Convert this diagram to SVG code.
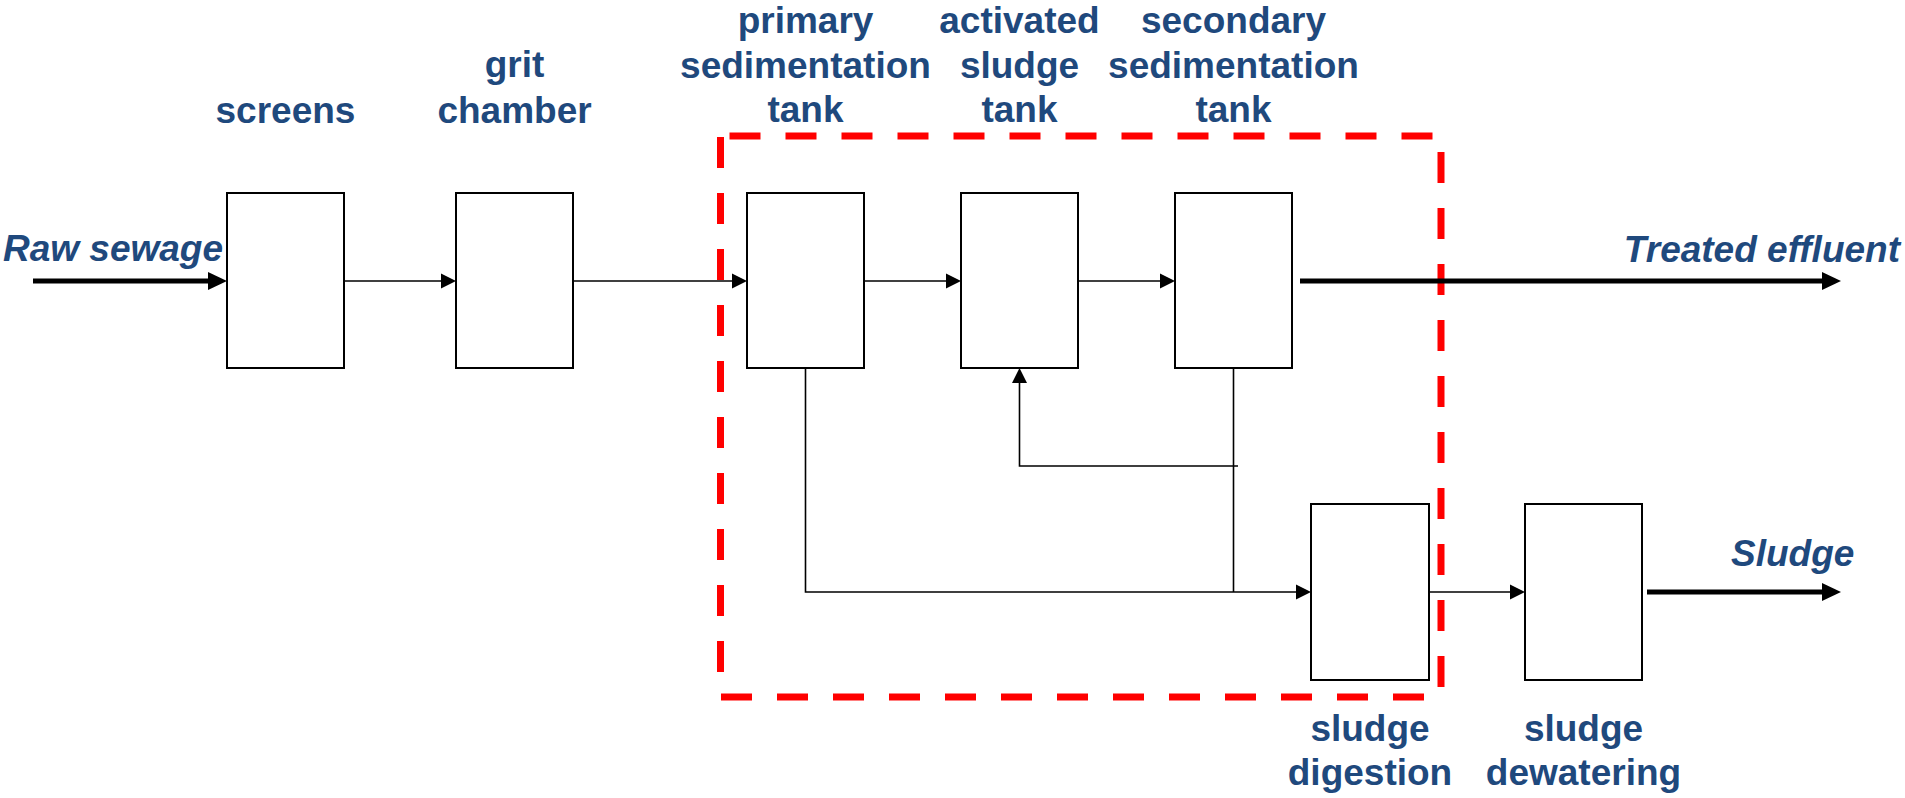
<svg xmlns="http://www.w3.org/2000/svg" width="1905" height="798" viewBox="0 0 1905 798">
<style>
.box{fill:#fff;stroke:#000;stroke-width:2}
.lbl{font-family:"Liberation Sans",Arial,sans-serif;font-weight:bold;font-size:37px;fill:#1F497D;text-anchor:middle}
.io{font-family:"Liberation Sans",Arial,sans-serif;font-weight:bold;font-style:italic;font-size:37px;fill:#1F497D}
.thin{fill:none;stroke:#000;stroke-width:1.6}
.thick{fill:none;stroke:#000;stroke-width:5}
.dash{fill:none;stroke:#FF0000;stroke-width:7;stroke-dasharray:31 25}
</style>
<defs>
<marker id="ah" markerUnits="userSpaceOnUse" markerWidth="15" markerHeight="15" refX="0" refY="7.5" viewBox="0 0 15 15" orient="auto" overflow="visible"><path d="M0,0 L15,7.5 L0,15 z" fill="#000"/></marker>
<marker id="ahb" markerUnits="userSpaceOnUse" markerWidth="19" markerHeight="18" refX="0" refY="9" viewBox="0 0 19 18" orient="auto" overflow="visible"><path d="M0,0 L19,9 L0,18 z" fill="#000"/></marker>
</defs>
<rect width="1905" height="798" fill="#fff"/>
<g id="boundary">
<line class="dash" x1="729.5" y1="136" x2="1445" y2="136"/>
<line class="dash" x1="720.5" y1="137" x2="720.5" y2="673"/>
<line class="dash" x1="1441" y1="152" x2="1441" y2="689"/>
<line class="dash" x1="721" y1="697" x2="1425" y2="697"/>
</g>
<g id="connectors">
<line class="thick" x1="33" y1="281" x2="208" y2="281" marker-end="url(#ahb)"/>
<line class="thin" x1="344" y1="281" x2="441" y2="281" marker-end="url(#ah)"/>
<line class="thin" x1="573" y1="281" x2="732" y2="281" marker-end="url(#ah)"/>
<line class="thin" x1="864" y1="281" x2="946" y2="281" marker-end="url(#ah)"/>
<line class="thin" x1="1078" y1="281" x2="1160" y2="281" marker-end="url(#ah)"/>
<line class="thick" x1="1300" y1="281" x2="1822" y2="281" marker-end="url(#ahb)"/>
<path class="thin" d="M805.5,368 V592 H1296" marker-end="url(#ah)"/>
<line class="thin" x1="1233.5" y1="368" x2="1233.5" y2="592"/>
<path class="thin" d="M1238,466 H1019.5 V383" marker-end="url(#ah)"/>
<line class="thin" x1="1429" y1="592" x2="1510" y2="592" marker-end="url(#ah)"/>
<line class="thick" x1="1647" y1="592" x2="1822" y2="592" marker-end="url(#ahb)"/>
</g>
<g id="raw-sewage"><text class="io" x="3" y="261">Raw sewage</text></g>
<g id="treated-effluent"><text class="io" x="1900" y="262" text-anchor="end">Treated effluent</text></g>
<g id="sludge-out"><text class="io" x="1731" y="566">Sludge</text></g>
<g id="screens">
<rect class="box" x="227" y="193" width="117" height="175"/>
<text class="lbl" x="285.5" y="123">screens</text>
</g>
<g id="grit-chamber">
<rect class="box" x="456" y="193" width="117" height="175"/>
<text class="lbl" x="514.5" y="77">grit</text>
<text class="lbl" x="514.5" y="123">chamber</text>
</g>
<g id="primary-sedimentation-tank">
<rect class="box" x="747" y="193" width="117" height="175"/>
<text class="lbl" x="805.5" y="33">primary</text>
<text class="lbl" x="805.5" y="77.5">sedimentation</text>
<text class="lbl" x="805.5" y="122">tank</text>
</g>
<g id="activated-sludge-tank">
<rect class="box" x="961" y="193" width="117" height="175"/>
<text class="lbl" x="1019.5" y="33">activated</text>
<text class="lbl" x="1019.5" y="77.5">sludge</text>
<text class="lbl" x="1019.5" y="122">tank</text>
</g>
<g id="secondary-sedimentation-tank">
<rect class="box" x="1175" y="193" width="117" height="175"/>
<text class="lbl" x="1233.5" y="33">secondary</text>
<text class="lbl" x="1233.5" y="77.5">sedimentation</text>
<text class="lbl" x="1233.5" y="122">tank</text>
</g>
<g id="sludge-digestion">
<rect class="box" x="1311" y="504" width="118" height="176"/>
<text class="lbl" x="1370" y="741">sludge</text>
<text class="lbl" x="1370" y="785">digestion</text>
</g>
<g id="sludge-dewatering">
<rect class="box" x="1525" y="504" width="117" height="176"/>
<text class="lbl" x="1583.5" y="741">sludge</text>
<text class="lbl" x="1583.5" y="785">dewatering</text>
</g>
</svg>
